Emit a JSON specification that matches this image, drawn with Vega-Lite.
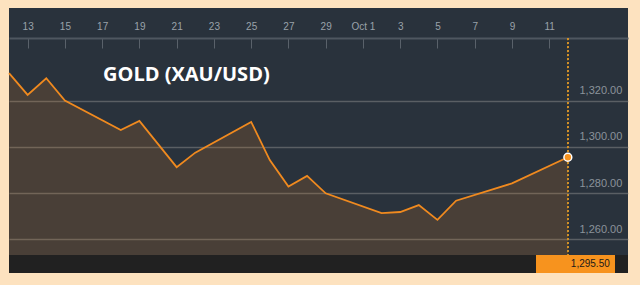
{
  "$schema": "https://vega.github.io/schema/vega-lite/v6.json",
  "width": 619,
  "height": 265,
  "autosize": {"type": "none"},
  "padding": {"left": 9, "top": 8, "right": 12, "bottom": 12},
  "background": "#fde2bf",
  "config": {
    "view": {"stroke": null, "fill": "#29323c"},
    "font": "Liberation Sans"
  },
  "title": {
    "text": "GOLD (XAU/USD)",
    "anchor": "start",
    "frame": "group",
    "orient": "top",
    "offset": -93,
    "dx": 94,
    "baseline": "alphabetic",
    "font": "Open Sans",
    "fontSize": 20,
    "fontWeight": "bold",
    "color": "#ffffff"
  },
  "data": {
    "values": [
      {"date": "2017-09-12", "price": 1331.9},
      {"date": "2017-09-13", "price": 1322.5},
      {"date": "2017-09-14", "price": 1329.7},
      {"date": "2017-09-15", "price": 1320.0},
      {"date": "2017-09-18", "price": 1307.3},
      {"date": "2017-09-19", "price": 1311.2},
      {"date": "2017-09-21", "price": 1291.2},
      {"date": "2017-09-22", "price": 1297.5},
      {"date": "2017-09-25", "price": 1310.8},
      {"date": "2017-09-26", "price": 1294.3},
      {"date": "2017-09-27", "price": 1282.8},
      {"date": "2017-09-28", "price": 1287.4},
      {"date": "2017-09-29", "price": 1279.9},
      {"date": "2017-10-02", "price": 1271.3},
      {"date": "2017-10-03", "price": 1271.8},
      {"date": "2017-10-04", "price": 1274.8},
      {"date": "2017-10-05", "price": 1268.4},
      {"date": "2017-10-06", "price": 1276.7},
      {"date": "2017-10-09", "price": 1284.2},
      {"date": "2017-10-12", "price": 1295.5}
    ]
  },
  "encoding": {
    "x": {
      "field": "date",
      "type": "temporal",
      "scale": {
        "type": "utc",
        "domain": [
          {"year": 2017, "month": 9, "date": 12, "utc": true},
          {"year": 2017, "month": 10, "date": 15, "hours": 5, "minutes": 30, "utc": true}
        ]
      },
      "axis": {
        "orient": "top",
        "offset": -30,
        "title": null,
        "grid": false,
        "domainColor": "#4f5760",
        "domainWidth": 2,
        "tickColor": "#59616a",
        "tickSize": -10,
        "tickWidth": 1,
        "labelColor": "#9aa2aa",
        "labelFontSize": 10,
        "labelPadding": 17,
        "labelOverlap": false,
        "labelFlush": false,
        "values": [
          {"year": 2017, "month": 9, "date": 13, "utc": true},
          {"year": 2017, "month": 9, "date": 15, "utc": true},
          {"year": 2017, "month": 9, "date": 17, "utc": true},
          {"year": 2017, "month": 9, "date": 19, "utc": true},
          {"year": 2017, "month": 9, "date": 21, "utc": true},
          {"year": 2017, "month": 9, "date": 23, "utc": true},
          {"year": 2017, "month": 9, "date": 25, "utc": true},
          {"year": 2017, "month": 9, "date": 27, "utc": true},
          {"year": 2017, "month": 9, "date": 29, "utc": true},
          {"year": 2017, "month": 10, "date": 1, "utc": true},
          {"year": 2017, "month": 10, "date": 3, "utc": true},
          {"year": 2017, "month": 10, "date": 5, "utc": true},
          {"year": 2017, "month": 10, "date": 7, "utc": true},
          {"year": 2017, "month": 10, "date": 9, "utc": true},
          {"year": 2017, "month": 10, "date": 11, "utc": true}
        ],
        "labelExpr": "utcdate(datum.value) == 1 ? 'Oct 1' : '' + utcdate(datum.value)"
      }
    },
    "y": {
      "field": "price",
      "type": "quantitative",
      "scale": {"domain": [1245.4, 1360.1], "zero": false, "nice": false},
      "axis": {
        "orient": "right",
        "offset": -49,
        "title": null,
        "domain": false,
        "ticks": false,
        "grid": true,
        "gridColor": "#8c8c8c",
        "gridOpacity": 0.5,
        "gridWidth": 1.3,
        "values": [1260, 1280, 1300, 1320],
        "format": ",.2f",
        "labelColor": "#8b939b",
        "labelFontSize": 11,
        "labelPadding": 0,
        "labelAlign": "left",
        "labelBaseline": "middle",
        "labelOffset": -10
      }
    }
  },
  "layer": [
    {
      "mark": {"type": "rect", "color": "#212121"},
      "encoding": {
        "x": null,
        "y": {"datum": 1253.2},
        "y2": {"datum": 1245.4}
      }
    },
    {
      "mark": {"type": "area", "color": "#f0891e", "opacity": 0.16},
      "encoding": {"y2": {"datum": 1253.2}}
    },
    {
      "mark": {"type": "line", "color": "#f08a1f", "strokeWidth": 1.8}
    },
    {
      "mark": {"type": "rule", "color": "#d1912a", "strokeDash": [2, 2], "strokeWidth": 1},
      "encoding": {
        "x": {"datum": {"year": 2017, "month": 10, "date": 12, "utc": true}, "type": "temporal"},
        "y": {"datum": 1347.1},
        "y2": {"datum": 1245.4}
      }
    },
    {
      "transform": [{"filter": "utcmonth(datum.date) == 9 && utcdate(datum.date) == 12"}],
      "mark": {"type": "point", "filled": true, "color": "#f7931e", "size": 62, "stroke": "#ffffff", "strokeWidth": 1.5, "opacity": 1}
    },
    {
      "mark": {"type": "rect", "color": "#f7931e"},
      "encoding": {
        "x": {"datum": {"year": 2017, "month": 10, "date": 10, "hours": 7, "utc": true}, "type": "temporal"},
        "x2": {"datum": {"year": 2017, "month": 10, "date": 14, "hours": 12, "utc": true}},
        "y": {"datum": 1253.2},
        "y2": {"datum": 1245.4}
      }
    },
    {
      "transform": [{"filter": "utcmonth(datum.date) == 9 && utcdate(datum.date) == 12"}],
      "mark": {"type": "text", "align": "left", "baseline": "middle", "dx": 3, "fontSize": 10, "color": "#1a1a1a"},
      "encoding": {
        "y": {"datum": 1249.3},
        "text": {"field": "price", "type": "quantitative", "format": ",.2f"}
      }
    }
  ]
}
